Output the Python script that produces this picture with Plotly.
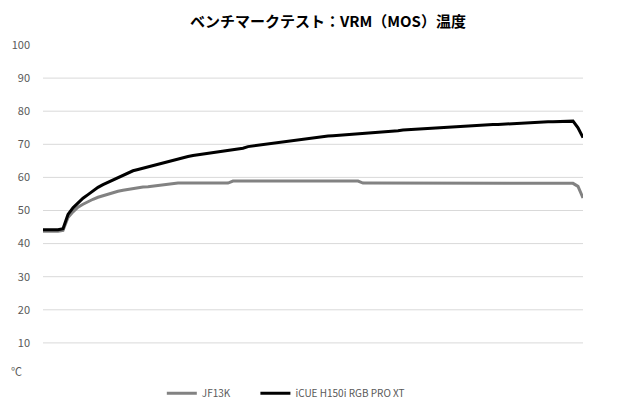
import plotly.graph_objects as go

TITLE = "ベンチマークテスト：VRM（MOS）温度"
SERIES_NAMES = ["JF13K", "iCUE H150i RGB PRO XT"]

# temperatures (°C), sampled at even intervals across the run
JF13K = [
    43.7, 43.7, 43.7, 43.7, 44.0, 47.9, 49.6, 51.0, 51.9, 52.7,
    53.4, 54.0, 54.5, 55.0, 55.4, 55.8, 56.1, 56.4, 56.7, 57.0,
    57.1, 57.2, 57.4, 57.6, 57.8, 58.1, 58.2, 58.3, 58.3, 58.3,
    58.3, 58.3, 58.3, 58.3, 58.3, 58.3, 58.3, 58.3, 58.9, 58.9,
    58.9, 58.9, 58.9, 58.9, 58.9, 58.9, 58.9, 58.9, 58.9, 58.9,
    58.9, 58.9, 58.9, 58.9, 58.9, 58.9, 58.9, 58.9, 58.9, 58.9,
    58.9, 58.9, 58.9, 58.9, 58.3, 58.3, 58.3, 58.3, 58.3, 58.3,
    58.3, 58.3, 58.3, 58.3, 58.3, 58.3, 58.3, 58.3, 58.3, 58.3,
    58.3, 58.3, 58.3, 58.3, 58.3, 58.3, 58.3, 58.3, 58.3, 58.3,
    58.3, 58.3, 58.3, 58.3, 58.3, 58.3, 58.3, 58.3, 58.3, 58.3,
    58.3, 58.3, 58.3, 58.3, 58.3, 58.3, 58.2, 57.3, 53.8,
]

ICUE = [
    44.2, 44.2, 44.2, 44.2, 44.5, 48.8, 50.8, 52.4, 53.7, 54.8,
    56.0, 57.0, 57.8, 58.5, 59.3, 60.0, 60.8, 61.5, 62.0, 62.4,
    62.8, 63.2, 63.6, 64.1, 64.5, 64.8, 65.2, 65.6, 66.0, 66.3,
    66.6, 66.8, 67.0, 67.2, 67.4, 67.7, 67.9, 68.1, 68.3, 68.5,
    68.8, 69.3, 69.5, 69.7, 69.9, 70.1, 70.3, 70.5, 70.7, 70.9,
    71.2, 71.4, 71.6, 71.8, 72.1, 72.3, 72.4, 72.5, 72.6, 72.7,
    72.8, 73.0, 73.1, 73.3, 73.4, 73.5, 73.6, 73.7, 73.8, 73.9,
    74.0, 74.1, 74.3, 74.4, 74.5, 74.6, 74.7, 74.8, 74.9, 75.0,
    75.2, 75.3, 75.4, 75.5, 75.6, 75.7, 75.8, 75.8, 75.9, 76.0,
    76.0, 76.0, 76.1, 76.2, 76.3, 76.4, 76.5, 76.5, 76.6, 76.7,
    76.7, 76.8, 76.8, 76.8, 76.9, 76.9, 77.0, 75.0, 72.0,
]

Y_TICKS = [0, 10, 20, 30, 40, 50, 60, 70, 80, 90, 100]
Y_TICK_TEXT = ["", "10", "20", "30", "40", "50", "60", "70", "80", "90", "100"]
GRID_LEVELS = [10, 20, 30, 40, 50, 60, 70, 80, 90]
UNIT = "℃"

samples = list(range(len(JF13K)))

fig = go.Figure()
fig.add_trace(go.Scatter(
    x=samples, y=JF13K, name=SERIES_NAMES[0] + "\u00a0" * 9, mode="lines",
    line=dict(color="#828282", width=3),
))
fig.add_trace(go.Scatter(
    x=samples, y=ICUE, name=SERIES_NAMES[1], mode="lines",
    line=dict(color="#000000", width=3),
))

for lvl in GRID_LEVELS:
    fig.add_shape(
        type="line", xref="paper", x0=0, x1=1, yref="y", y0=lvl, y1=lvl,
        line=dict(color="#d9d9d9", width=1), layer="below",
    )

fig.add_annotation(
    text=UNIT, xref="paper", x=-0.05, xanchor="center",
    yref="y", y=0, yanchor="middle", yshift=5, showarrow=False,
    font=dict(size=11, color="#595959"),
)

fig.update_layout(
    width=620, height=410,
    margin=dict(l=43, r=37, t=45, b=34, autoexpand=False),
    paper_bgcolor="white", plot_bgcolor="white",
    font=dict(family="Noto Sans CJK JP, Noto Sans, sans-serif", color="#595959"),
    title=dict(
        text=TITLE, x=0.529, xref="container", xanchor="center",
        y=0.946, yref="container", yanchor="middle",
        font=dict(size=15, color="#000000", weight="bold"),
    ),
    showlegend=True,
    legend=dict(
        orientation="h", x=0.461, xref="container", xanchor="center",
        y=0.041, yref="container", yanchor="middle",
        font=dict(size=10, color="#595959"), itemwidth=30,
        bgcolor="rgba(0,0,0,0)",
    ),
)
fig.update_xaxes(
    range=[0, len(samples) - 1], visible=False, showgrid=False, zeroline=False,
)
fig.update_yaxes(
    range=[0, 100], tickvals=Y_TICKS, ticktext=Y_TICK_TEXT, showgrid=False,
    zeroline=False, showline=False, ticks="", ticklabelstandoff=12,
    automargin=False, tickfont=dict(size=11, color="#595959"),
)

fig.write_html(
    "out.html",
    config={"displayModeBar": False},
    post_script="document.body.style.margin='0';",
)
